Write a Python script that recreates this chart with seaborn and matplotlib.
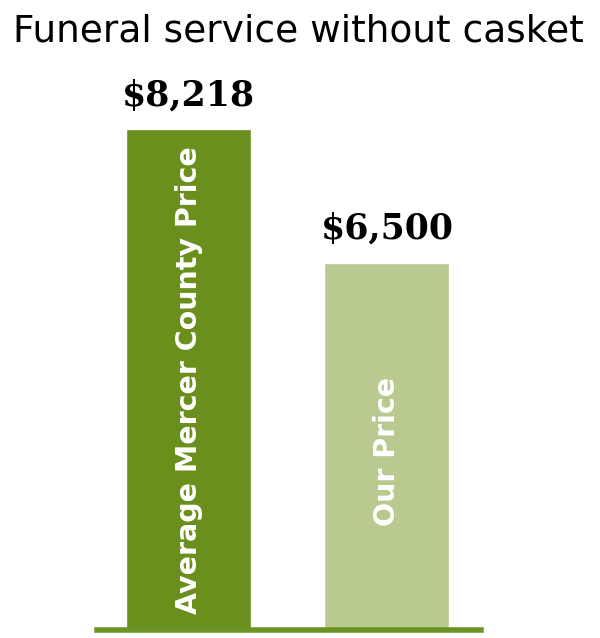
import matplotlib
matplotlib.use("Agg")
import matplotlib.pyplot as plt
import seaborn as sns
import pandas as pd

# --- Data ---
categories = ["Average Mercer County Price", "Our Price"]
prices = [8218, 6500]
price_labels = ["$8,218", "$6,500"]
bar_colors = ["#6a8f1c", "#b8ca8f"]

TITLE = "Funeral service without casket"
BASE_COLOR = "#6b9424"


def plot_price_comparison():
    df = pd.DataFrame({"Category": categories, "Price": prices})

    sns.set_theme(style="white")
    fig = plt.figure(figsize=(6.0, 6.38), dpi=100)
    ax = fig.add_axes([0.161, 0.0118, 0.64, 0.8942])

    sns.barplot(data=df, x="Category", y="Price", hue="Category",
                palette=bar_colors, width=0.631, saturation=1,
                legend=False, ax=ax)

    ax.set_xlim(-0.466, 1.473)
    ax.set_ylim(1763, 9110)

    # value labels above bars
    for i, (val, lab) in enumerate(zip(prices, price_labels)):
        ax.annotate(lab, (i, val), xytext=(0, 12), textcoords="offset points",
                    ha="center", va="bottom", fontsize=25, fontweight="bold",
                    family="DejaVu Serif", color="black")

    # category names written vertically inside bars
    bottom = ax.get_ylim()[0]
    for i, (val, cat) in enumerate(zip(prices, categories)):
        ax.text(i, (val + bottom) / 2 - 60 * i, cat, rotation=90, ha="center",
                va="center", color="white", fontsize=20.5, fontweight="bold",
                family="DejaVu Sans")

    sns.despine(ax=ax, left=True)
    ax.spines["bottom"].set_color(BASE_COLOR)
    ax.spines["bottom"].set_linewidth(4.0)
    ax.set_xticks([])
    ax.set_yticks([])
    ax.set_xlabel("")
    ax.set_ylabel("")

    fig.text(0.497, 0.951, TITLE, ha="center", va="center",
             fontsize=27, family="DejaVu Sans", color="black")

    fig.savefig("out.png", dpi=100)


def main():
    plot_price_comparison()


if __name__ == "__main__":
    main()
